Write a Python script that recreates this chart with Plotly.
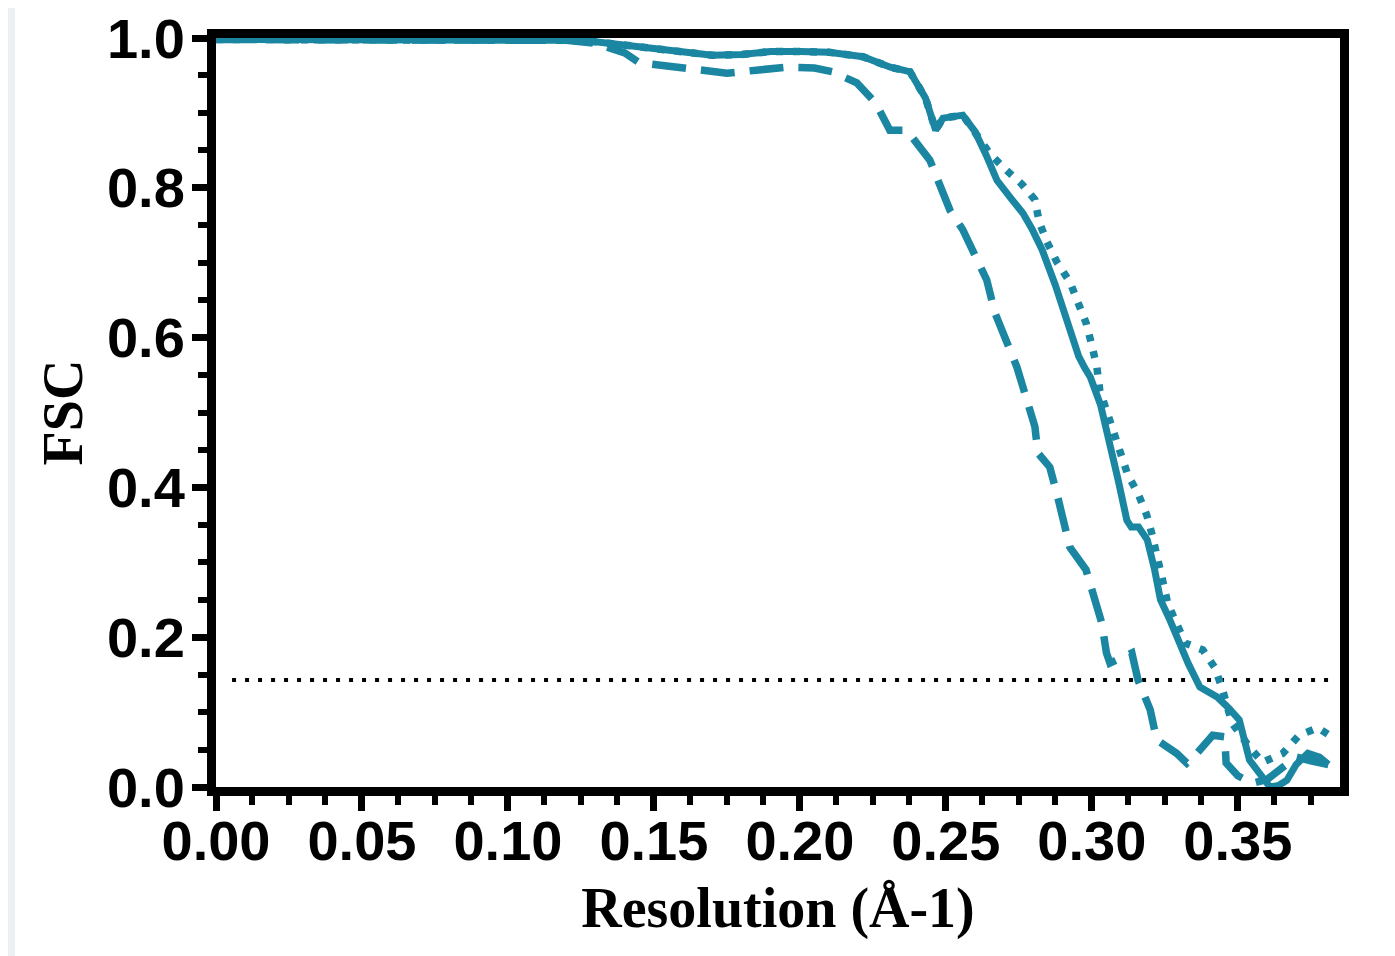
import plotly.graph_objects as go

# ---- data ----
res_solid = [0.0, 0.02, 0.05, 0.08, 0.10, 0.12, 0.13, 0.14, 0.15, 0.16, 0.17, 0.18, 0.19, 0.20, 0.21,
             0.2216, 0.231, 0.2377, 0.243, 0.2465, 0.249, 0.2558, 0.260, 0.264, 0.2675, 0.2725, 0.2764,
             0.2795, 0.283, 0.2875, 0.2925, 0.2955, 0.2975, 0.2995, 0.303, 0.306, 0.309, 0.312, 0.3135,
             0.316, 0.319, 0.3215, 0.3235, 0.3265, 0.329, 0.333, 0.337, 0.3405, 0.343, 0.347, 0.3505,
             0.354, 0.358, 0.361, 0.364, 0.3668, 0.370, 0.374, 0.378, 0.381]
fsc_solid = [0.998, 0.998, 0.998, 0.998, 0.998, 0.997, 0.995, 0.990, 0.985, 0.982, 0.977, 0.978, 0.982, 0.982, 0.981,
             0.975, 0.961, 0.955, 0.920, 0.877, 0.893, 0.897, 0.875, 0.842, 0.810, 0.785, 0.766,
             0.745, 0.717, 0.670, 0.610, 0.575, 0.560, 0.547, 0.510, 0.463, 0.410, 0.356, 0.347,
             0.347, 0.330, 0.290, 0.250, 0.225, 0.200, 0.165, 0.1335, 0.125, 0.120, 0.105, 0.0895,
             0.036, 0.015, 0.000, 0.002, 0.009, 0.030, 0.045, 0.040, 0.030]

res_dotted = [0.0, 0.05, 0.10, 0.12, 0.13, 0.14, 0.15, 0.16, 0.17, 0.18, 0.19, 0.20, 0.21, 0.2216, 0.231,
              0.2377, 0.243, 0.2465, 0.249, 0.2558, 0.260, 0.265, 0.270, 0.276, 0.2805, 0.282, 0.2846,
              0.288, 0.2925, 0.295, 0.298, 0.300, 0.3017, 0.3027, 0.305, 0.307, 0.3096, 0.3123, 0.3158,
              0.3188, 0.3205, 0.3223, 0.324, 0.326, 0.329, 0.332, 0.338, 0.342, 0.3445, 0.348, 0.354,
              0.3585, 0.3654, 0.371, 0.3774, 0.381]
fsc_dotted = [0.998, 0.998, 0.998, 0.997, 0.995, 0.990, 0.985, 0.982, 0.977, 0.978, 0.982, 0.982, 0.981, 0.975, 0.961,
              0.955, 0.920, 0.877, 0.893, 0.897, 0.875, 0.846, 0.826, 0.805, 0.784, 0.754, 0.728,
              0.701, 0.674, 0.648, 0.620, 0.590, 0.561, 0.530, 0.503, 0.472, 0.446, 0.417, 0.392,
              0.363, 0.339, 0.312, 0.280, 0.245, 0.219, 0.192, 0.183, 0.160, 0.1335, 0.0855, 0.053,
              0.033, 0.045, 0.069, 0.079, 0.070]

res_dashed = [0.0, 0.05, 0.10, 0.12, 0.13, 0.14, 0.145, 0.15, 0.16, 0.175, 0.185, 0.1955, 0.205, 0.211,
              0.2195, 0.226, 0.2308, 0.2366, 0.2445, 0.247, 0.2514, 0.2558, 0.261, 0.264, 0.2668, 0.2709,
              0.2743, 0.2764, 0.2805, 0.2815, 0.2856, 0.288, 0.290, 0.2925, 0.298, 0.3003, 0.3034, 0.305,
              0.3062, 0.3137, 0.3158, 0.320, 0.3222, 0.329, 0.3325, 0.336, 0.3414, 0.3455, 0.346, 0.350,
              0.355, 0.360, 0.365, 0.370, 0.375, 0.381]
fsc_dashed = [0.998, 0.998, 0.998, 0.997, 0.993, 0.980, 0.967, 0.965, 0.961, 0.953, 0.957, 0.961, 0.960, 0.955,
              0.940, 0.913, 0.877, 0.877, 0.837, 0.814, 0.770, 0.744, 0.704, 0.677, 0.633, 0.597,
              0.561, 0.534, 0.481, 0.446, 0.427, 0.392, 0.356, 0.320, 0.290, 0.259, 0.219, 0.179,
              0.1655, 0.179, 0.143, 0.103, 0.063, 0.045, 0.032, 0.045, 0.069, 0.067, 0.032, 0.015,
              0.005, 0.010, 0.025, 0.040, 0.035, 0.030]

threshold_x = [0.0055, 0.3825]
threshold_fsc = 0.143

x_ticks = [0.00, 0.05, 0.10, 0.15, 0.20, 0.25, 0.30, 0.35]
x_tick_labels = ["0.00", "0.05", "0.10", "0.15", "0.20", "0.25", "0.30", "0.35"]
y_ticks = [0.0, 0.2, 0.4, 0.6, 0.8, 1.0]
y_tick_labels = ["0.0", "0.2", "0.4", "0.6", "0.8", "1.0"]

teal = "#1a86a2"

fig = go.Figure()
fig.add_trace(go.Scatter(x=threshold_x, y=[threshold_fsc, threshold_fsc], mode="lines",
                         line=dict(color="black", width=4, dash="4px,9px"), hoverinfo="skip"))
fig.add_trace(go.Scatter(x=res_dashed, y=fsc_dashed, mode="lines",
                         line=dict(color=teal, width=7.5, dash="34px,15px")))
fig.add_trace(go.Scatter(x=res_dotted, y=fsc_dotted, mode="lines",
                         line=dict(color=teal, width=7.5, dash="7px,10px")))
fig.add_trace(go.Scatter(x=res_solid, y=fsc_solid, mode="lines",
                         line=dict(color=teal, width=7)))

tick_font = dict(family="Liberation Sans, Arial, sans-serif", size=56, color="black", weight="bold")
title_font = dict(family="Liberation Serif, Times New Roman, serif", size=56, color="black", weight="bold")

fig.update_layout(
    width=1387, height=948,
    margin=dict(l=208, r=55, t=30, b=169, autoexpand=False),
    paper_bgcolor="#eceff3",
    plot_bgcolor="white",
    showlegend=False,
    shapes=[dict(type="rect", xref="paper", yref="paper", x0=-0.1788, x1=1.06, y0=-0.23, y1=1.05,
                 fillcolor="white", line=dict(width=0), layer="below")],
    xaxis=dict(range=[0, 0.385], tickvals=x_ticks, ticktext=x_tick_labels, showgrid=False, zeroline=False,
               showline=True, linecolor="black", linewidth=9, mirror=True, automargin=False,
               ticks="outside", ticklen=15, tickwidth=7, tickcolor="black",
               minor=dict(dtick=0.0125, tick0=0, ticks="outside", ticklen=9, tickwidth=6, tickcolor="black"),
               tickfont=tick_font, ticklabelstandoff=-18, ticklabeloverflow="allow",
               title=dict(text="Resolution (Å-1)", font=title_font, standoff=20)),
    yaxis=dict(range=[0, 1.0], tickvals=y_ticks, ticktext=y_tick_labels, showgrid=False, zeroline=False,
               showline=True, linecolor="black", linewidth=9, mirror=True, automargin=False,
               ticks="outside", ticklen=15, tickwidth=7, tickcolor="black",
               minor=dict(dtick=0.05, tick0=0, ticks="outside", ticklen=9, tickwidth=6, tickcolor="black"),
               tickfont=tick_font, ticklabelstandoff=-4, ticklabeloverflow="allow",
               title=dict(text="FSC", font=title_font, standoff=10)),
)

fig.write_html("out.html")
